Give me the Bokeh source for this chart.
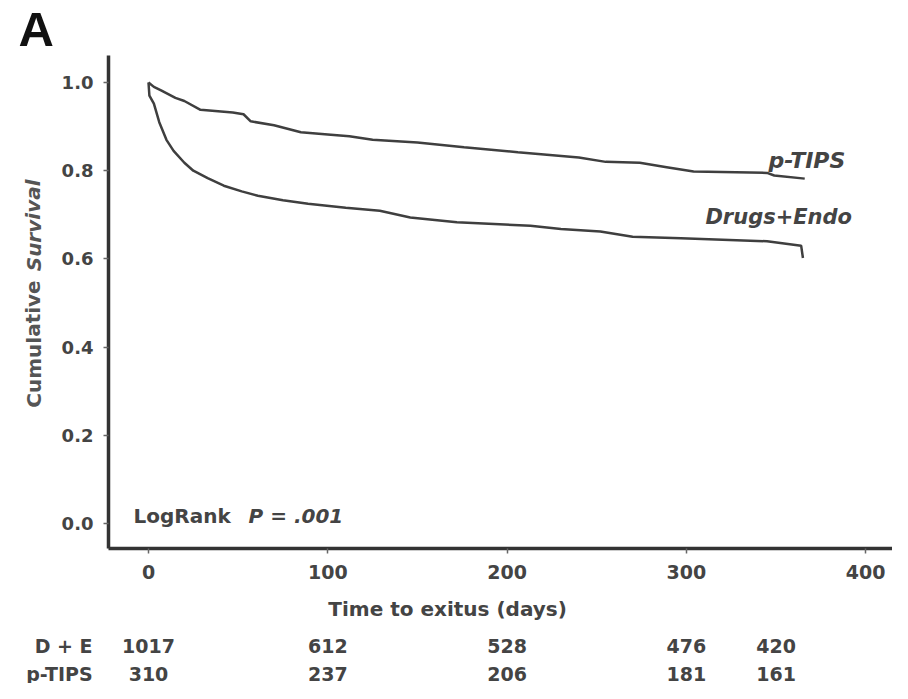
from bokeh.plotting import figure
from bokeh.models import Label, LabelSet, ColumnDataSource, FixedTicker, NumeralTickFormatter, Range1d
from bokeh.core.properties import value
from bokeh.layouts import column, row
from bokeh.embed import file_html
from bokeh.resources import INLINE

# ---- data ----
ptips_days = [0, 3, 7, 15, 20, 29, 47, 53, 57, 70, 85, 100, 112, 125, 150, 176, 206, 240, 255, 274, 289, 304, 345, 349, 366]
ptips_surv = [1.0, 0.99, 0.982, 0.965, 0.958, 0.938, 0.932, 0.928, 0.912, 0.903, 0.887, 0.882, 0.878, 0.870, 0.864, 0.853, 0.842, 0.830, 0.820, 0.818, 0.808, 0.798, 0.795, 0.789, 0.782]

de_days = [0, 0.5, 3, 6, 10, 14, 20, 25, 33, 42, 52, 61, 75, 89, 110, 129, 146, 172, 213, 230, 252, 270, 297, 345, 364, 365]
de_surv = [1.0, 0.97, 0.952, 0.91, 0.87, 0.845, 0.818, 0.80, 0.783, 0.766, 0.753, 0.743, 0.733, 0.725, 0.716, 0.709, 0.694, 0.683, 0.675, 0.668, 0.662, 0.650, 0.647, 0.640, 0.630, 0.602]

risk_times = [0, 100, 200, 300, 350]
risk_de = [1017, 612, 528, 476, 420]
risk_ptips = [310, 237, 206, 181, 161]

x_ticks = [0, 100, 200, 300, 400]
y_ticks = [0.0, 0.2, 0.4, 0.6, 0.8, 1.0]

series_names = ["p-TIPS", "Drugs+Endo"]
row_names = ["D + E", "p-TIPS"]

# ---- styling ----
FONT = "DejaVu Sans"
TXT = "#444444"
LINE = "#3f3f3f"
X0, X1 = -22.31, 414.95
yr = Range1d(-0.0567, 1.0612)


def blank(width, height, x_range, y_range):
    f = figure(width=width, height=height, output_backend="svg", toolbar_location=None,
               x_range=x_range, y_range=y_range, x_axis_type=None, y_axis_type=None,
               min_border=0, min_border_left=0, min_border_right=0, min_border_top=0, min_border_bottom=0)
    f.outline_line_color = None
    f.grid.visible = False
    return f


# ---- top strip with panel letter ----
top = blank(892, 55, Range1d(0, 892), Range1d(0, 55))
top.add_layout(Label(x=18, y=27, text="A", text_font="Liberation Sans", text_font_style="bold",
                     text_font_size="49px", text_color="#111111", text_baseline="middle", text_align="left"))

# ---- left strip with y-axis title (shares the survival scale) ----
ylab = blank(50, 533, Range1d(0, 50), yr)
ylab.add_layout(Label(x=33, y=0.407, text="Cumulative", angle=1.5708, text_font=FONT, text_font_style="bold",
                      text_font_size="20px", text_color="#555555", text_baseline="middle", text_align="center"))
ylab.add_layout(Label(x=33, y=0.676, text="Survival", angle=1.5708, text_font=FONT, text_font_style="bold italic",
                      text_font_size="20px", text_color="#555555", text_baseline="middle", text_align="center"))

# ---- main plot ----
p = figure(width=842, height=533, output_backend="svg", toolbar_location=None,
           x_range=Range1d(X0, X1), y_range=yr,
           min_border_left=58, min_border_right=0, min_border_top=0, min_border_bottom=40)
p.outline_line_color = None
p.xgrid.visible = False
p.ygrid.visible = False

for ax in (p.xaxis[0], p.yaxis[0]):
    ax.axis_line_width = 3.5
    ax.axis_line_color = "#333333"
    ax.major_tick_in = 0
    ax.major_tick_out = 5
    ax.major_tick_line_width = 1.5
    ax.major_tick_line_color = "#666666"
    ax.minor_tick_line_color = None
    ax.major_label_text_font = FONT
    ax.major_label_text_font_style = "bold"
    ax.major_label_text_color = TXT
p.xaxis.major_label_text_font_size = "19px"
p.yaxis.major_label_text_font_size = "18px"
p.xaxis.ticker = FixedTicker(ticks=x_ticks)
p.yaxis.ticker = FixedTicker(ticks=y_ticks)
p.yaxis.formatter = NumeralTickFormatter(format="0.0")
p.xaxis.major_label_standoff = 11
p.yaxis.major_label_standoff = 10

# survival curves
p.line(ptips_days, ptips_surv, line_color=LINE, line_width=2.5)
p.line(de_days, de_surv, line_color=LINE, line_width=2.5)

# curve labels
p.add_layout(Label(x=345.8, y=0.823, text=series_names[0], text_font=FONT, text_font_style="bold italic",
                   text_font_size="22px", text_color=TXT, text_baseline="middle", text_align="left"))
p.add_layout(Label(x=310.6, y=0.694, text=series_names[1], text_font=FONT, text_font_style="bold italic",
                   text_font_size="21px", text_color=TXT, text_baseline="middle", text_align="left"))

# log-rank annotation
p.add_layout(Label(x=-8.4, y=0.018, text="LogRank", text_font=FONT, text_font_style="bold",
                   text_font_size="20px", text_color=TXT, text_baseline="middle", text_align="left"))
p.add_layout(Label(x=55.8, y=0.018, text="P = .001", text_font=FONT, text_font_style="bold italic",
                   text_font_size="20px", text_color=TXT, text_baseline="middle", text_align="left"))

# ---- bottom strip: x title and numbers at risk (same day scale as the plot) ----
tx0 = X0 - 108 / 1.793
tab = blank(892, 95, Range1d(tx0, X1), Range1d(0, 95))
tab.add_layout(Label(x=166.8, y=75, text="Time to exitus (days)", text_font=FONT, text_font_style="bold",
                     text_font_size="20px", text_color=TXT, text_baseline="middle", text_align="center"))
row_y = [38, 10]
for yy, name, vals in zip(row_y, row_names, [risk_de, risk_ptips]):
    src = ColumnDataSource(dict(x=risk_times, y=[yy] * len(risk_times), t=[str(v) for v in vals]))
    tab.add_layout(LabelSet(x="x", y="y", text="t", source=src, text_font=value(FONT),
                            text_font_style="bold", text_font_size="19px", text_color=TXT,
                            text_baseline="middle", text_align="center"))
    tab.add_layout(Label(x=-31.2, y=yy, text=name, text_font=FONT, text_font_style="bold",
                         text_font_size="19px", text_color=TXT, text_baseline="middle", text_align="right"))

layout = column(top, row(ylab, p, spacing=0), tab, spacing=0)
open("out.html", "w").write(file_html(layout, INLINE))
